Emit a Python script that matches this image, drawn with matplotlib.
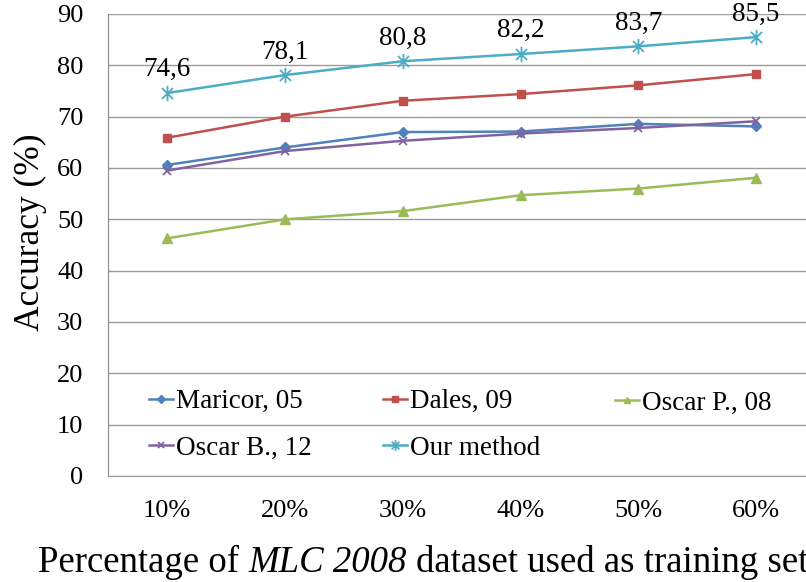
import matplotlib
matplotlib.use("Agg")
import matplotlib.pyplot as plt
from matplotlib.path import Path

plt.rcParams['font.family'] = ['Liberation Serif', 'DejaVu Serif']

# training-set fractions and accuracy (%) per method
fractions = ['10%', '20%', '30%', '40%', '50%', '60%']
maricor = [60.6, 64.0, 67.0, 67.1, 68.6, 68.1]
dales = [65.9, 70.0, 73.1, 74.4, 76.1, 78.3]
oscar_p = [46.3, 50.0, 51.6, 54.7, 56.0, 58.1]
oscar_b = [59.5, 63.3, 65.3, 66.7, 67.8, 69.1]
ours = [74.6, 78.1, 80.8, 82.2, 83.7, 85.5]

# asterisk marker: vertical bar plus a cross
asterisk = Path([(0, -1), (0, 1), (-0.72, -0.72), (0.72, 0.72), (-0.72, 0.72), (0.72, -0.72)],
                [Path.MOVETO, Path.LINETO] * 3)

W, H = 806, 582
fig = plt.figure(figsize=(W / 100, H / 100), dpi=100)
ax = fig.add_axes([108.3 / W, 1 - 476 / H, (815 - 108.3) / W, (476 - 14) / H])

x = range(len(fractions))
lw = 1.8
styles = [
    ('Maricor, 05', maricor, '#4F81BD', dict(marker='D', ms=5.5)),
    ('Dales, 09', dales, '#C0504D', dict(marker='s', ms=6)),
    ('Oscar P., 08', oscar_p, '#9BBB59', dict(marker='^', ms=7)),
    ('Oscar B., 12', oscar_b, '#8064A2', dict(marker='x', ms=6, mew=1.3)),
    ('Our method', ours, '#4BACC6', dict(marker=asterisk, ms=11, mew=1.3, mfc='none')),
]
handles = {}
for name, vals, col, mk in styles:
    ln, = ax.plot(x, vals, color=col, lw=lw, mec=col, label=name, zorder=3, **mk)
    handles[name] = ln

for i, v in enumerate(ours):
    ax.annotate(f'{v:.1f}'.replace('.', ','), (i, v), xytext=(0, 12), textcoords='offset points',
                ha='center', va='baseline', fontsize=19.5)

ax.set_xlim(-0.5, len(fractions) - 0.5)
ax.set_ylim(0, 90)
ax.set_yticks(range(0, 91, 10))
ax.set_xticks(list(x))
ax.set_xticklabels(fractions)
ax.tick_params(axis='y', length=0, pad=18, labelsize=19)
ax.tick_params(axis='x', length=0, pad=17, labelsize=19)
ax.grid(axis='y', color='#9A9A9A', lw=1.0)
ax.set_axisbelow(True)
for s in ['top', 'right']:
    ax.spines[s].set_visible(False)
ax.spines['left'].set_color('#8A8A8A')
ax.spines['bottom'].set_color('#9A9A9A')

ax.set_ylabel('Accuracy (%)', fontsize=25.5)
ax.yaxis.set_label_coords(-0.087, 0.527)

# x label in three pieces so the dataset name can be italic
xl_size = 26.5
space = 0.25 * xl_size
t1 = fig.text(38 / W, 1 - 571.7 / H, 'Percentage of', fontsize=xl_size, ha='left', va='baseline')
t2 = ax.annotate('MLC 2008', xy=(1, 0), xycoords=t1, xytext=(space, 0), textcoords='offset points',
                 fontsize=xl_size, style='italic', ha='left', va='bottom', annotation_clip=False)
ax.annotate('dataset used as training set', xy=(1, 0), xycoords=t2, xytext=(space, 0),
            textcoords='offset points', fontsize=xl_size, ha='left', va='bottom',
            annotation_clip=False)

# legend laid out as three columns inside the plot area
columns = [
    (149, 425, ['Maricor, 05', 'Oscar B., 12']),
    (383, 425, ['Dales, 09', 'Our method']),
    (615, 403, ['Oscar P., 08']),
]
for px, py, names in columns:
    fig.legend([handles[n] for n in names], names, loc='center left',
               bbox_to_anchor=(px / W, 1 - py / H), bbox_transform=fig.transFigure,
               frameon=False, fontsize=19.5, handlelength=0.9, handletextpad=0.08,
               labelspacing=0.8, borderpad=0, borderaxespad=0, markerscale=0.7)

fig.savefig('out.png', dpi=100)
